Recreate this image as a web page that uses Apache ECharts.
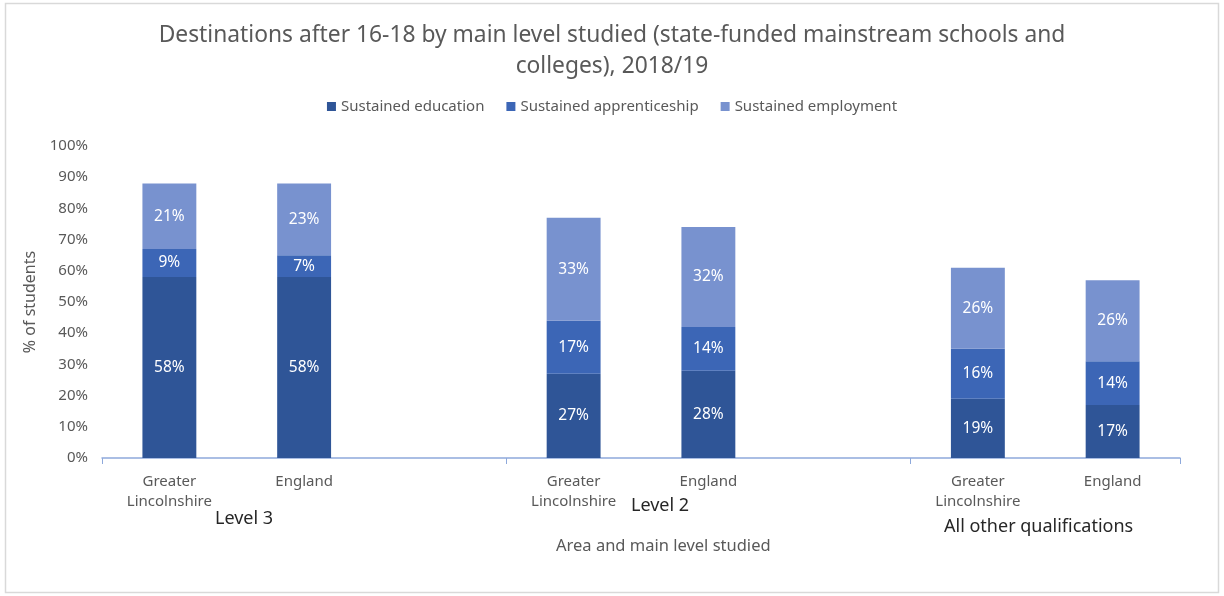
<!DOCTYPE html>
<html>
<head>
<meta charset="utf-8">
<script src="https://cdn.jsdelivr.net/npm/echarts@6/dist/echarts.min.js"></script>
<style>
  html, body { margin: 0; padding: 0; background: #fff; }
  #chart { width: 1224px; height: 596px; }
</style>
</head>
<body>
<div id="chart"></div>
<script>
// Areas within each level; empty slots leave a gap between the level groups
const categories = [
  'Greater\nLincolnshire', 'England', '',
  'Greater\nLincolnshire', 'England', '',
  'Greater\nLincolnshire', 'England'
];
const levels = ['Level 3', 'Level 2', 'All other qualifications'];
const seriesNames = ['Sustained education', 'Sustained apprenticeship', 'Sustained employment'];

// Percentage of students per destination (null = gap slot)
const education      = [58, 58, null, 27, 28, null, 19, 17];
const apprenticeship = [9, 7, null, 17, 14, null, 16, 14];
const employment     = [21, 23, null, 33, 32, null, 26, 26];

const yTicks = [0, 10, 20, 30, 40, 50, 60, 70, 80, 90, 100];

const FONT = '"Noto Sans", sans-serif';
const GREY = '#595959';
const colors = ['#2F5597', '#3C66B6', '#7892CF'];

const chart = echarts.init(document.getElementById('chart'));

function barSeries(name, data, color) {
  return {
    name: name,
    type: 'bar',
    stack: 'total',
    data: data,
    barCategoryGap: '60%',
    itemStyle: { color: color },
    label: {
      show: true,
      position: 'inside',
      color: '#ffffff',
      fontFamily: FONT,
      fontSize: 15.5,
      formatter: p => (p.value == null ? '' : p.value + '%')
    }
  };
}

chart.setOption({
  animation: false,
  textStyle: { fontFamily: FONT },
  title: {
    text: 'Destinations after 16-18 by main level studied (state-funded mainstream schools and\ncolleges), 2018/19',
    left: 'center',
    top: 15,
    textStyle: { color: GREY, fontSize: 22.8, fontWeight: 'normal', fontFamily: FONT, lineHeight: 31 }
  },
  legend: {
    data: seriesNames,
    top: 94,
    left: 'center',
    itemWidth: 9,
    itemHeight: 9,
    itemGap: 22,
    icon: 'rect',
    textStyle: { color: GREY, fontSize: 15, fontFamily: FONT }
  },
  grid: { left: 102, right: 44, top: 146, bottom: 138 },
  xAxis: {
    type: 'category',
    data: categories,
    axisLine: { lineStyle: { color: '#8EA9DB', width: 1.5 } },
    axisTick: {
      show: true,
      alignWithLabel: false,
      length: 6,
      interval: (i) => i === 0 || i === 3 || i === 6,
      lineStyle: { color: '#8EA9DB' }
    },
    axisLabel: {
      interval: 0,
      color: GREY,
      fontSize: 15,
      fontFamily: FONT,
      lineHeight: 20,
      margin: 14
    }
  },
  yAxis: {
    type: 'value',
    min: 0,
    max: 100,
    interval: 10,
    name: '% of students',
    nameLocation: 'middle',
    nameGap: 55,
    nameTextStyle: { color: GREY, fontSize: 16, fontFamily: FONT },
    axisLine: { show: false },
    axisTick: { show: false },
    splitLine: { show: false },
    axisLabel: {
      color: GREY,
      fontSize: 15,
      fontFamily: FONT,
      margin: 14,
      formatter: v => (yTicks.includes(v) ? v + '%' : '')
    }
  },
  series: [
    barSeries(seriesNames[0], education, colors[0]),
    barSeries(seriesNames[1], apprenticeship, colors[1]),
    barSeries(seriesNames[2], employment, colors[2])
  ],
  graphic: [
    {
      type: 'rect',
      shape: { x: 5.5, y: 3.5, width: 1213, height: 589 },
      style: { fill: 'none', stroke: '#D9D9D9', lineWidth: 1.5 },
      silent: true
    },
    {
      type: 'text', left: 215, top: 510,
      style: { text: levels[0], fill: '#262626', fontSize: 18, fontFamily: FONT }
    },
    {
      type: 'text', left: 631, top: 497,
      style: { text: levels[1], fill: '#262626', fontSize: 18, fontFamily: FONT }
    },
    {
      type: 'text', left: 944, top: 518,
      style: { text: levels[2], fill: '#262626', fontSize: 18, fontFamily: FONT }
    },
    {
      type: 'text', left: 556, top: 538,
      style: { text: 'Area and main level studied', fill: GREY, fontSize: 16.5, fontFamily: FONT }
    }
  ]
});
</script>
</body>
</html>
